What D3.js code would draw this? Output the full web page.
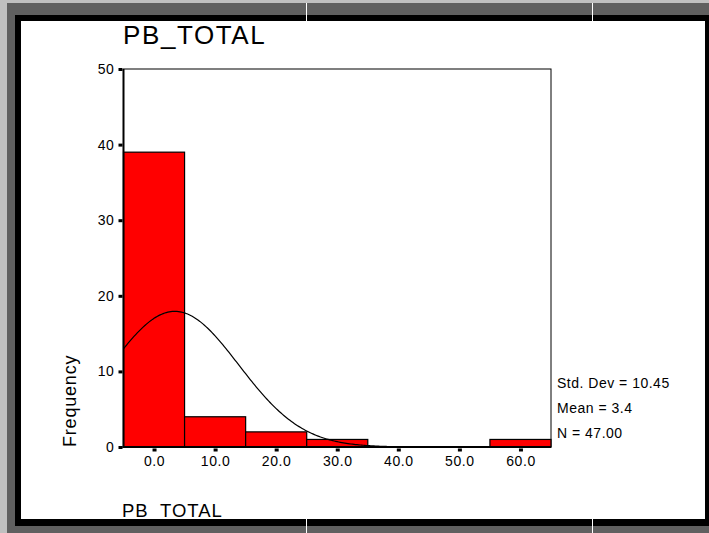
<!DOCTYPE html>
<html>
<head>
<meta charset="utf-8">
<script src="https://cdn.jsdelivr.net/npm/d3@7/dist/d3.min.js"></script>
<style>
  html, body { margin: 0; padding: 0; background: #fff; }
  svg { display: block; }
  text { font-family: Arial, "Liberation Sans", sans-serif; fill: #000; }
</style>
</head>
<body>
<svg id="chart" width="709" height="533"></svg>
<script>
// Histogram of PB_TOTAL with a fitted normal curve
const binCenters = [0, 10, 20, 30, 40, 50, 60];
const binCounts = [39, 4, 2, 1, 0, 0, 1];
const binWidth = 10;
const yTicks = [0, 10, 20, 30, 40, 50];
const xTicks = [0, 10, 20, 30, 40, 50, 60];
const stdDev = 10.45;
const mean = 3.4;
const nCases = 47;
const statLines = ["Std. Dev = 10.45", "Mean = 3.4", "N = 47.00"];

const svg = d3.select("#chart");
const W = 709, H = 533;

// Frame around the page
svg.append("rect").attr("x", 0).attr("y", 0).attr("width", W).attr("height", H).attr("fill", "#c0c0c0");
svg.append("rect").attr("x", 7).attr("y", 3).attr("width", W - 7).attr("height", H - 3).attr("fill", "#606060");
svg.append("rect").attr("x", 15).attr("y", 15).attr("width", W - 15).attr("height", 511).attr("fill", "#000");
svg.append("rect").attr("x", 21).attr("y", 21).attr("width", 684).attr("height", 498).attr("fill", "#fff");
// page-break guides
[306.5, 592.5].forEach(px => {
  svg.append("line").attr("x1", px).attr("x2", px).attr("y1", 3).attr("y2", 21)
    .attr("stroke", "#fff").attr("stroke-width", 1);
  svg.append("line").attr("x1", px).attr("x2", px).attr("y1", 519).attr("y2", H)
    .attr("stroke", "#fff").attr("stroke-width", 1);
});

// Scales
const x = d3.scaleLinear().domain([-5, 65]).range([123.5, 551]);
const y = d3.scaleLinear().domain([0, 50]).range([447, 69]);

const plotL = x(-5), plotR = x(65), plotT = y(50), plotB = y(0);

// Plot frame (top / right)
svg.append("rect").attr("x", plotL).attr("y", plotT)
  .attr("width", plotR - plotL).attr("height", plotB - plotT)
  .attr("fill", "#fff").attr("stroke", "#000").attr("stroke-width", 1);

// Bars
svg.append("g").selectAll("rect").data(binCenters.map((c, i) => ({c, n: binCounts[i]})).filter(d => d.n > 0))
  .join("rect")
  .attr("x", d => x(d.c - binWidth / 2))
  .attr("y", d => y(d.n))
  .attr("width", d => x(d.c + binWidth / 2) - x(d.c - binWidth / 2))
  .attr("height", d => y(0) - y(d.n))
  .attr("fill", "#ff0000")
  .attr("stroke", "#000")
  .attr("stroke-width", 1.2);

// Normal curve scaled to counts
const scaleK = nCases * binWidth / (stdDev * Math.sqrt(2 * Math.PI));
const curvePts = d3.range(-5, 65.01, 0.25).map(v => [v, scaleK * Math.exp(-0.5 * Math.pow((v - mean) / stdDev, 2))]);
svg.append("path")
  .datum(curvePts)
  .attr("fill", "none")
  .attr("stroke", "#000")
  .attr("stroke-width", 1.2)
  .attr("d", d3.line().x(d => x(d[0])).y(d => y(d[1])).curve(d3.curveLinear));

// Axis lines (heavier left & bottom)
svg.append("line").attr("x1", plotL).attr("x2", plotL).attr("y1", plotT).attr("y2", plotB + 1)
  .attr("stroke", "#000").attr("stroke-width", 2);
svg.append("line").attr("x1", plotL - 1).attr("x2", plotR).attr("y1", plotB).attr("y2", plotB)
  .attr("stroke", "#000").attr("stroke-width", 2);

// Y axis ticks and labels
const yAxis = d3.axisLeft(y).tickValues(yTicks).tickSize(0).tickPadding(9).tickFormat(d3.format("d"));
const gy = svg.append("g").attr("transform", `translate(${plotL},0)`).call(yAxis);
gy.select(".domain").remove();
gy.selectAll("text").style("font-size", "14px").style("letter-spacing", "0.6px");
gy.selectAll(".tick").append("rect").attr("x", -5).attr("y", -1.5).attr("width", 4).attr("height", 3).attr("fill", "#000");

// X axis ticks and labels
const xAxis = d3.axisBottom(x).tickValues(xTicks).tickSize(0).tickPadding(9).tickFormat(d3.format(".1f"));
const gx = svg.append("g").attr("transform", `translate(0,${plotB})`).call(xAxis);
gx.select(".domain").remove();
gx.selectAll("text").style("font-size", "14px").style("letter-spacing", "0.6px");
gx.selectAll(".tick").append("rect").attr("x", -2).attr("y", 1.5).attr("width", 4).attr("height", 3).attr("fill", "#000");

// Titles
svg.append("text").attr("x", 123).attr("y", 44)
  .style("font-size", "26px").style("letter-spacing", "1.6px").text("PB_TOTAL");
svg.append("text").attr("x", 122).attr("y", 517)
  .style("font-size", "18.5px").style("letter-spacing", "1px").text("PB_TOTAL");
svg.append("text").attr("transform", "translate(76,447) rotate(-90)")
  .style("font-size", "18px").style("letter-spacing", "0.8px").text("Frequency");

// Summary statistics
svg.append("g").selectAll("text").data(statLines).join("text")
  .attr("x", 557).attr("y", (d, i) => 388 + i * 25)
  .style("font-size", "14px").style("letter-spacing", "0.5px")
  .text(d => d);
</script>
</body>
</html>
